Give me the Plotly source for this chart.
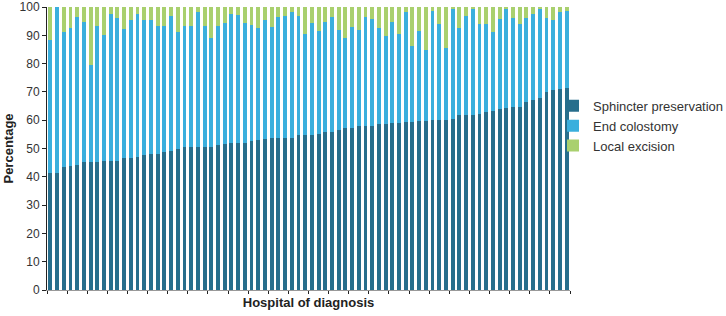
import plotly.graph_objects as go

hospitals = [f"H{i}" for i in range(1, 79)]

sphincter_preservation = [
    41.2, 41.5, 43.3, 43.8, 44.1, 45.3, 45.3, 45.3, 45.5, 45.5,
    45.5, 46.5, 46.5, 47.1, 47.6, 47.9, 48.2, 48.6, 49.1, 50.0,
    50.4, 50.4, 50.4, 50.4, 50.6, 51.2, 51.5, 51.8, 51.8, 51.8,
    52.6, 52.9, 53.5, 53.8, 53.8, 53.8, 53.8, 54.9, 54.9, 54.9,
    55.2, 55.9, 55.9, 56.7, 57.1, 57.3, 58.0, 58.0, 58.0, 58.5,
    58.8, 59.1, 59.1, 59.2, 59.4, 59.8, 59.8, 60.2, 60.2, 60.2,
    60.6, 61.8, 61.8, 61.8, 62.1, 62.9, 63.2, 63.9, 64.4, 64.7,
    64.7, 66.5, 67.3, 68.0, 70.0, 70.6, 71.2, 71.4,
]

end_colostomy = [
    47.3, 58.5, 47.9, 48.9, 52.4, 49.4, 34.1, 48.0, 44.5, 52.1,
    50.7, 45.9, 48.8, 50.5, 47.7, 47.4, 45.1, 44.7, 47.7, 41.2,
    42.9, 42.9, 47.8, 42.9, 38.5, 42.1, 43.0, 45.8, 45.5, 42.7,
    40.9, 39.8, 41.8, 39.1, 42.7, 43.0, 44.4, 41.9, 35.5, 39.6,
    36.2, 38.8, 40.6, 35.1, 32.1, 35.6, 34.0, 38.5, 37.6, 34.1,
    31.0, 35.6, 31.3, 39.0, 26.8, 31.6, 24.9, 38.4, 33.7, 25.3,
    38.6, 30.9, 35.0, 37.4, 31.8, 31.0, 28.0, 32.0, 34.8, 31.4,
    29.2, 29.7, 30.3, 31.2, 26.1, 24.7, 27.0, 27.1,
]

local_excision = [
    11.5, 0.0, 8.8, 7.3, 3.5, 5.3, 20.6, 6.7, 10.0, 2.4,
    3.8, 7.6, 4.7, 2.4, 4.7, 4.7, 6.7, 6.7, 3.2, 8.8,
    6.7, 6.7, 1.8, 6.7, 10.9, 6.7, 5.5, 2.4, 2.7, 5.5,
    6.5, 7.3, 4.7, 7.1, 3.5, 3.2, 1.8, 3.2, 9.6, 5.5,
    8.6, 5.3, 3.5, 8.2, 10.8, 7.1, 8.0, 3.5, 4.4, 7.4,
    10.2, 5.3, 9.6, 1.8, 13.8, 8.6, 15.3, 1.4, 6.1, 14.5,
    0.8, 7.3, 3.2, 0.8, 6.1, 6.1, 8.8, 4.1, 0.8, 3.9,
    6.1, 3.8, 2.4, 0.8, 3.9, 4.7, 1.8, 1.5,
]

y_ticks = [0, 10, 20, 30, 40, 50, 60, 70, 80, 90, 100]

fig = go.Figure()
fig.add_trace(go.Bar(x=hospitals, y=sphincter_preservation, name="Sphincter preservation",
                     marker=dict(color="#276e8c", line=dict(width=0))))
fig.add_trace(go.Bar(x=hospitals, y=end_colostomy, name="End colostomy",
                     marker=dict(color="#3aafdd", line=dict(width=0))))
fig.add_trace(go.Bar(x=hospitals, y=local_excision, name="Local excision",
                     marker=dict(color="#a9d06e", line=dict(width=0))))

fig.update_layout(
    barmode="stack",
    bargap=0.42,
    width=726, height=316,
    margin=dict(l=47, r=156, t=7, b=26, autoexpand=False),
    paper_bgcolor="white", plot_bgcolor="white",
    font=dict(family="Liberation Sans, Arial, sans-serif", size=12, color="#333333"),
    legend=dict(x=0.9675, y=0.58, xanchor="left", yanchor="middle",
                font=dict(size=13, color="#333333"), traceorder="normal",
                itemwidth=30, bgcolor="rgba(0,0,0,0)", tracegroupgap=0),
    xaxis=dict(
        automargin=False,
        showticklabels=False, ticks="outside", ticklen=3, tickcolor="#222222",
        tickson="boundaries", showline=True, linecolor="#999999", linewidth=1,
        showgrid=False, zeroline=False,
        title=dict(text="<b>Hospital of diagnosis</b>", standoff=7,
                   font=dict(size=13, color="#222222")),
    ),
    yaxis=dict(
        automargin=False, ticklabeloverflow="allow",
        range=[0, 100], tickvals=y_ticks, ticks="outside", ticklen=4,
        tickcolor="#222222", showline=True, linecolor="#222222", linewidth=1,
        showgrid=False, zeroline=False, tickfont=dict(size=12, color="#333333"),
        title=dict(text="<b>Percentage</b>", standoff=3,
                   font=dict(size=13, color="#222222")),
    ),
)

fig.write_html("out.html", config={"displayModeBar": False},
               post_script="document.body.style.margin='0';document.body.style.overflow='hidden';")
